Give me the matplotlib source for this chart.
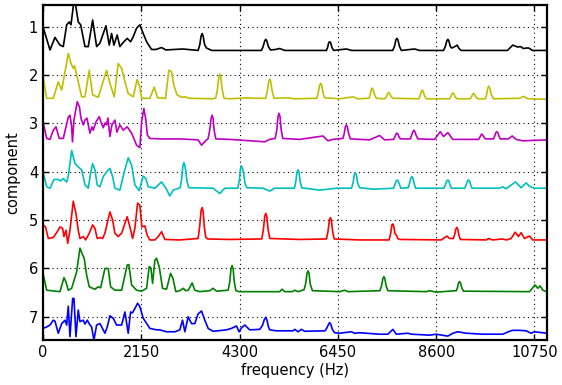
import matplotlib
matplotlib.use("Agg")
import matplotlib.pyplot as plt

# ---- data: (frequency Hz, normalized magnitude 0..1) vertices per component ----
comp1 = [(0,.50),(153,.02),(262,.28),(371,.12),(444,.09),(518,.54),(575,.60),(612,.54),(666,.95),(714,.95),(771,.60),(824,.54),(918,.09),(990,.09),(1086,.64),(1173,.09),(1245,.16),(1377,.52),(1449,.12),(1501,.36),(1551,.12),(1623,.33),(1682,.09),(1741,.16),(1842,.26),(1916,.19),(1973,.29),(2047,.47),(2120,.54),(2192,.36),(2266,.19),(2375,.03),(2469,.03),(2594,.07),(2688,.02),(3059,.04),(3393,.01),(3430,.13),(3459,.31),(3481,.36),(3503,.31),(3535,.13),(3577,.06),(3693,.01),(4779,.01),(4815,.09),(4851,.21),(4873,.24),(4895,.21),(4930,.09),(4975,.02),(5091,.03),(5178,.05),(5288,.01),(6199,.01),(6225,.07),(6250,.17),(6271,.19),(6293,.17),(6320,.07),(6358,.01),(6636,.04),(6752,.01),(7650,.01),(7690,.10),(7720,.23),(7742,.26),(7764,.23),(7795,.10),(7838,.01),(8128,.04),(8237,.01),(8762,.01),(8800,.09),(8834,.21),(8856,.24),(8878,.21),(8910,.09),(8943,.06),(9010,.09),(9061,.12),(9100,.05),(9149,.01),(10160,.01),(10276,.12),(10386,.08),(10444,.09),(10510,.05),(10575,.06),(10626,.06),(10707,.01),(11025,.01)]

comp2 = [(0,.47),(81,.02),(225,.02),(334,.36),(409,.19),(553,.95),(612,.74),(662,.64),(688,.69),(721,.57),(846,.05),(918,.05),(1012,.60),(1086,.09),(1208,.04),(1392,.60),(1464,.33),(1558,.05),(1645,.74),(1720,.64),(1792,.36),(1864,.12),(1973,.05),(2060,.41),(2119,.25),(2157,.02),(2338,.02),(2432,.25),(2506,.03),(2681,.02),(2753,.60),(2812,.57),(2862,.29),(2934,.09),(3031,.04),(3103,.05),(3212,.02),(3721,.01),(3780,.03),(3815,.20),(3845,.45),(3867,.52),(3889,.45),(3920,.20),(3960,.02),(4086,.01),(4479,.03),(4632,.02),(4870,.02),(4905,.16),(4938,.36),(4960,.42),(4982,.36),(5015,.16),(5054,.02),(5353,.03),(5506,.01),(5990,.02),(6020,.13),(6052,.29),(6074,.33),(6096,.29),(6125,.13),(6162,.03),(6489,.01),(6780,.05),(6883,.01),(7130,.02),(7160,.10),(7180,.20),(7200,.23),(7222,.20),(7250,.10),(7291,.02),(7480,.01),(7515,.06),(7540,.12),(7560,.14),(7582,.12),(7610,.06),(7654,.02),(8222,.01),(8250,.07),(8275,.16),(8296,.19),(8318,.16),(8345,.07),(8384,.01),(8893,.01),(8920,.05),(8945,.11),(8965,.13),(8987,.11),(9015,.05),(9053,.01),(9345,.01),(9375,.05),(9397,.10),(9417,.12),(9439,.10),(9465,.05),(9511,.01),(9680,.01),(9705,.10),(9730,.23),(9752,.27),(9774,.23),(9805,.10),(9854,.01),(10422,.02),(10510,.06),(10604,.01),(11025,.00)]

comp3 = [(0,.53),(81,.19),(153,.17),(225,.36),(284,.43),(356,.19),(444,.19),(503,.43),(553,.63),(590,.67),(623,.47),(645,.12),(677,.57),(749,.95),(798,.84),(830,.61),(881,.47),(918,.57),(961,.61),(994,.45),(1027,.30),(1071,.43),(1099,.36),(1158,.53),(1230,.64),(1267,.53),(1318,.41),(1355,.51),(1392,.47),(1420,.61),(1464,.23),(1508,.47),(1573,.57),(1617,.32),(1682,.47),(1755,.36),(1842,.43),(1938,.30),(2047,.05),(2119,.00),(2157,.53),(2207,.81),(2250,.57),(2283,.26),(2338,.19),(2556,.18),(2993,.18),(3393,.16),(3468,.05),(3577,.16),(3610,.18),(3645,.35),(3677,.60),(3699,.67),(3721,.60),(3745,.35),(3780,.18),(4086,.17),(4851,.12),(4960,.17),(5080,.19),(5115,.37),(5141,.64),(5163,.71),(5185,.64),(5210,.37),(5245,.19),(5615,.17),(6125,.24),(6234,.14),(6337,.17),(6560,.19),(6590,.29),(6614,.43),(6636,.47),(6658,.43),(6685,.29),(6723,.18),(7145,.16),(7363,.25),(7473,.16),(7669,.17),(7700,.23),(7722,.28),(7742,.30),(7762,.28),(7785,.23),(7816,.18),(8034,.18),(8065,.26),(8092,.33),(8113,.36),(8135,.33),(8160,.26),(8200,.18),(8565,.17),(8690,.33),(8762,.23),(8856,.31),(8965,.17),(9476,.17),(9530,.17),(9560,.22),(9580,.26),(9599,.28),(9620,.26),(9645,.22),(9680,.18),(9854,.18),(9885,.25),(9905,.31),(9927,.33),(9949,.31),(9970,.25),(10001,.18),(10182,.18),(10263,.24),(10350,.17),(10495,.14),(11025,.16)]

comp4 = [(0,.50),(81,.19),(153,.16),(240,.34),(334,.34),(387,.31),(444,.36),(518,.29),(557,.43),(627,.94),(699,.67),(771,.60),(846,.54),(918,.23),(990,.16),(1042,.47),(1086,.67),(1136,.54),(1186,.23),(1245,.19),(1318,.40),(1392,.50),(1464,.57),(1523,.40),(1573,.16),(1682,.12),(1770,.47),(1864,.79),(1938,.64),(2010,.23),(2104,.11),(2192,.41),(2251,.36),(2301,.19),(2447,.16),(2594,.29),(2688,.16),(2775,.00),(2847,.12),(3000,.17),(3035,.36),(3060,.62),(3081,.69),(3103,.64),(3125,.50),(3150,.30),(3190,.17),(3721,.16),(3867,.05),(3977,.16),(4260,.16),(4295,.32),(4320,.56),(4342,.62),(4364,.57),(4390,.45),(4420,.25),(4460,.17),(4814,.16),(4960,.10),(5069,.16),(5500,.16),(5530,.30),(5556,.49),(5578,.54),(5600,.49),(5625,.30),(5660,.17),(6052,.12),(6417,.16),(6750,.16),(6785,.28),(6810,.44),(6832,.48),(6854,.44),(6880,.28),(6926,.17),(7217,.14),(7669,.16),(7700,.24),(7728,.31),(7750,.33),(7772,.31),(7795,.24),(7830,.16),(7990,.17),(8020,.27),(8047,.37),(8069,.40),(8091,.37),(8115,.27),(8150,.16),(8770,.16),(8805,.24),(8834,.31),(8856,.33),(8878,.31),(8900,.24),(8935,.16),(9225,.16),(9260,.24),(9287,.31),(9308,.33),(9330,.31),(9352,.24),(9385,.16),(9985,.16),(10058,.19),(10132,.15),(10335,.29),(10460,.17),(10569,.27),(10641,.20),(10750,.16),(11025,.16)]

comp5 = [(0,.40),(55,.36),(116,.12),(225,.14),(312,.26),(371,.36),(430,.33),(459,.16),(503,.29),(540,.02),(590,.29),(662,.89),(721,.64),(771,.29),(808,.12),(881,.16),(933,.09),(1012,.23),(1086,.40),(1136,.33),(1186,.12),(1245,.14),(1304,.12),(1355,.23),(1464,.67),(1523,.50),(1573,.23),(1645,.16),(1720,.23),(1842,.57),(1901,.36),(1960,.12),(2010,.33),(2069,.85),(2119,.81),(2163,.36),(2229,.38),(2279,.19),(2338,.09),(2447,.09),(2513,.15),(2594,.26),(2666,.10),(2993,.09),(3393,.12),(3425,.35),(3459,.70),(3481,.76),(3503,.68),(3530,.35),(3560,.15),(3600,.11),(4086,.10),(4785,.11),(4820,.30),(4851,.58),(4873,.64),(4895,.58),(4925,.30),(4960,.12),(5615,.10),(6200,.11),(6235,.27),(6264,.50),(6286,.55),(6308,.50),(6335,.27),(6370,.11),(6926,.09),(7570,.09),(7605,.22),(7632,.40),(7654,.42),(7676,.36),(7700,.22),(7729,.19),(7760,.12),(7800,.10),(8711,.09),(8834,.17),(8893,.12),(8975,.12),(9005,.20),(9032,.32),(9053,.35),(9075,.31),(9100,.18),(9130,.10),(9695,.09),(9752,.12),(9833,.09),(10045,.11),(10138,.09),(10241,.12),(10329,.25),(10401,.16),(10460,.24),(10532,.12),(10641,.17),(10713,.09),(11025,.09)]

comp6 = [(0,.40),(81,.05),(371,.02),(459,.31),(503,.22),(553,.05),(627,.09),(736,.43),(808,.92),(867,.78),(902,.71),(955,.36),(1012,.12),(1136,.07),(1208,.12),(1261,.10),(1355,.50),(1427,.50),(1479,.12),(1573,.05),(1720,.05),(1842,.57),(1879,.58),(1938,.16),(2047,.05),(2157,.03),(2266,.09),(2323,.54),(2360,.51),(2397,.19),(2447,.67),(2484,.71),(2541,.54),(2615,.09),(2703,.07),(2790,.40),(2841,.30),(2906,.02),(2993,.04),(3066,.09),(3125,.04),(3179,.05),(3262,.20),(3321,.05),(3431,.02),(3649,.04),(3721,.09),(3795,.03),(4050,.05),(4085,.22),(4114,.50),(4136,.56),(4158,.50),(4185,.22),(4220,.04),(4289,.02),(5178,.02),(5229,.07),(5288,.02),(5456,.02),(5506,.05),(5578,.02),(5710,.06),(5745,.18),(5775,.40),(5797,.45),(5819,.40),(5845,.18),(5893,.04),(6489,.02),(6599,.05),(6671,.02),(7370,.04),(7405,.14),(7435,.29),(7457,.33),(7479,.29),(7505,.14),(7545,.04),(8384,.02),(8456,.04),(8602,.01),(8747,.02),(9040,.04),(9065,.10),(9090,.20),(9111,.23),(9133,.20),(9160,.10),(9199,.03),(10641,.02),(10765,.16),(10823,.09),(10875,.14),(10932,.05),(11025,.02)]

comp7 = [(0,.26),(81,.29),(153,.33),(225,.43),(262,.41),(334,.16),(409,.36),(481,.43),(518,.33),(553,.72),(590,.09),(649,.88),(677,.88),(721,.09),(771,.64),(808,.40),(881,.43),(918,.35),(968,.43),(1027,.33),(1064,.29),(1114,.02),(1173,.33),(1245,.36),(1355,.16),(1405,.29),(1464,.52),(1536,.47),(1610,.33),(1720,.33),(1792,.60),(1864,.16),(1916,.60),(1956,.58),(2010,.67),(2069,.78),(2119,.71),(2192,.47),(2338,.26),(2484,.23),(2556,.23),(2703,.19),(2884,.19),(2993,.23),(3052,.43),(3103,.19),(3175,.50),(3249,.36),(3321,.36),(3393,.56),(3468,.62),(3540,.43),(3612,.26),(3721,.20),(4014,.23),(4123,.26),(4232,.31),(4289,.19),(4342,.27),(4414,.33),(4523,.23),(4741,.24),(4800,.32),(4840,.44),(4873,.49),(4900,.43),(4930,.30),(4960,.23),(5106,.21),(5469,.21),(5506,.24),(5578,.19),(5653,.24),(5725,.20),(6170,.21),(6210,.27),(6250,.35),(6271,.38),(6293,.35),(6330,.24),(6380,.17),(6489,.16),(6745,.19),(6818,.16),(6926,.17),(7363,.14),(7545,.14),(7654,.24),(7729,.14),(7982,.16),(8063,.14),(8456,.12),(8602,.14),(8856,.10),(8965,.16),(9074,.19),(9258,.16),(9621,.14),(10058,.14),(10204,.20),(10276,.22),(10422,.22),(10569,.21),(10678,.16),(10750,.19),(11025,.16)]

spectra = [comp1, comp2, comp3, comp4, comp5, comp6, comp7]
colors = ['k', 'y', 'm', 'c', 'r', 'g', 'b']
components = [1, 2, 3, 4, 5, 6, 7]
xticks = [0, 2150, 4300, 6450, 8600, 10750]

fig = plt.figure(figsize=(5.62, 3.85), dpi=100)
ax = fig.add_axes([43/562, 1-340/385, (547-43)/562, (340-5)/385])

for comp, spec, c in zip(components, spectra, colors):
    f = [p[0] for p in spec]
    y = [comp + 0.5 - p[1] for p in spec]
    ax.plot(f, y, color=c, lw=1.2, solid_joinstyle='round')

ax.set_xlim(0, 11025)
ax.set_ylim(7.48, 0.55)
ax.set_xticks(xticks)
ax.set_yticks(components)
ax.grid(True, color='k', linestyle=(0, (1, 3)), linewidth=0.8)
ax.tick_params(direction='in', top=True, right=True, length=4, width=1, labelsize=10.5)
for s in ax.spines.values():
    s.set_linewidth(1.6)
ax.set_xlabel('frequency (Hz)', fontsize=10.5, labelpad=2)
ax.set_ylabel('component', fontsize=10.5, labelpad=6)

fig.savefig('out.png', dpi=100)
